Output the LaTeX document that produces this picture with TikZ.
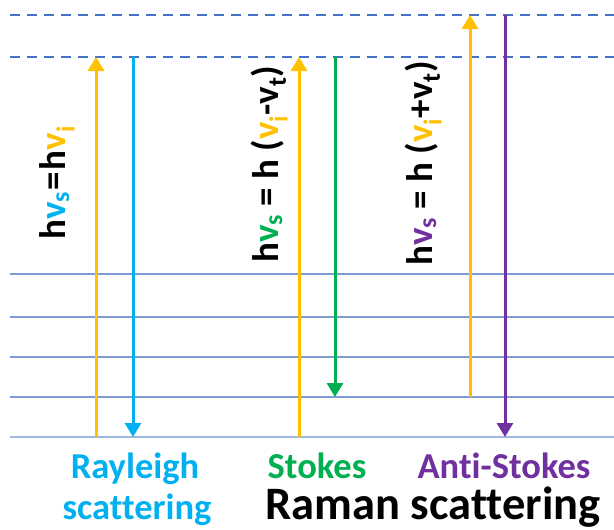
\documentclass[tikz,border=0pt]{standalone}
\usepackage{fontspec}
\setmainfont{Carlito}[Ligatures=NoCommon]
\usetikzlibrary{arrows.meta}
\definecolor{yel}{HTML}{FFC000}
\definecolor{rblue}{HTML}{00B0F0}
\definecolor{sgreen}{HTML}{00B050}
\definecolor{apurple}{HTML}{7030A0}
\definecolor{dashc}{HTML}{4472C4}
\definecolor{levc}{HTML}{7F9BD5}
\definecolor{groundc}{HTML}{A3B6E3}
\begin{document}
\begin{tikzpicture}[x=1pt,y=-1pt,
  lev/.style={draw=levc, line width=1.3pt},
  ground/.style={draw=groundc, line width=2pt},
  virt/.style={draw=dashc, line width=2pt, dash pattern=on 10pt off 7pt},
  ph/.style={line width=3pt, -{Triangle[width=16pt,length=14pt]}},
  eq/.style={rotate=90, anchor=base west, font=\fontsize{37}{42}\selectfont\bfseries, inner sep=0pt},
  lab/.style={anchor=base, font=\fontsize{36.5}{42}\selectfont\bfseries, inner sep=0pt},
  big/.style={anchor=base, font=\fontsize{46.5}{52}\selectfont\bfseries, inner sep=0pt}]
\useasboundingbox (0,0) rectangle (614,530);
% energy levels
\foreach \n/\y in {a/15,b/57}{
  \coordinate (vL\n) at (10,\y); \coordinate (vR\n) at (614,\y);
  \draw[virt] (vL\n) -- (vR\n);
}
\foreach \n/\y in {1/274,2/317,3/357,4/397}{
  \coordinate (lL\n) at (10,\y); \coordinate (lR\n) at (614,\y);
  \draw[lev] (lL\n) -- (lR\n);
}
\coordinate (gL) at (10,437); \coordinate (gR) at (614,437);
\draw[ground] (gL) -- (gR);
% Rayleigh
\coordinate (r1a) at (96,437); \coordinate (r1b) at (96,57);
\coordinate (r2a) at (133,57); \coordinate (r2b) at (133,437);
\draw[ph, yel] (r1a) -- (r1b);
\draw[ph, rblue] (r2a) -- (r2b);
% Stokes
\coordinate (s1a) at (299,437); \coordinate (s1b) at (299,57);
\coordinate (s2a) at (335,57); \coordinate (s2b) at (335,397);
\draw[ph, yel] (s1a) -- (s1b);
\draw[ph, sgreen] (s2a) -- (s2b);
% Anti-Stokes
\coordinate (a1a) at (470,397); \coordinate (a1b) at (470,15);
\coordinate (a2a) at (505,15); \coordinate (a2b) at (505,437);
\draw[ph, yel] (a1a) -- (a1b);
\draw[ph, apurple] (a2a) -- (a2b);
% equations
\node[eq] (e1) at (65,240) {h\textcolor{rblue}{v\textsubscript{s}}\kern0.04em=\kern0.04em h\textcolor{yel}{v\textsubscript{i}}};
\node[eq] (e2) at (278,263) {h\textcolor{sgreen}{v\textsubscript{s}} = h (\textcolor{yel}{v\textsubscript{i}}-v\textsubscript{t})};
\node[eq] (e3) at (432,266) {h\textcolor{apurple}{v\textsubscript{s}} = h (\textcolor{yel}{v\textsubscript{i}}+v\textsubscript{t})};
% labels
\node[lab, text=rblue] (ray1) at (135,478) {Rayleigh};
\node[lab, text=rblue] (ray2) at (137,519) {scattering};
\node[lab, text=sgreen] (sto) at (317,478) {Stokes};
\node[lab, text=apurple] (ast) at (504,478) {Anti-Stokes};
\node[big] (ram) at (433,519) {Raman scattering};
\end{tikzpicture}
\end{document}
